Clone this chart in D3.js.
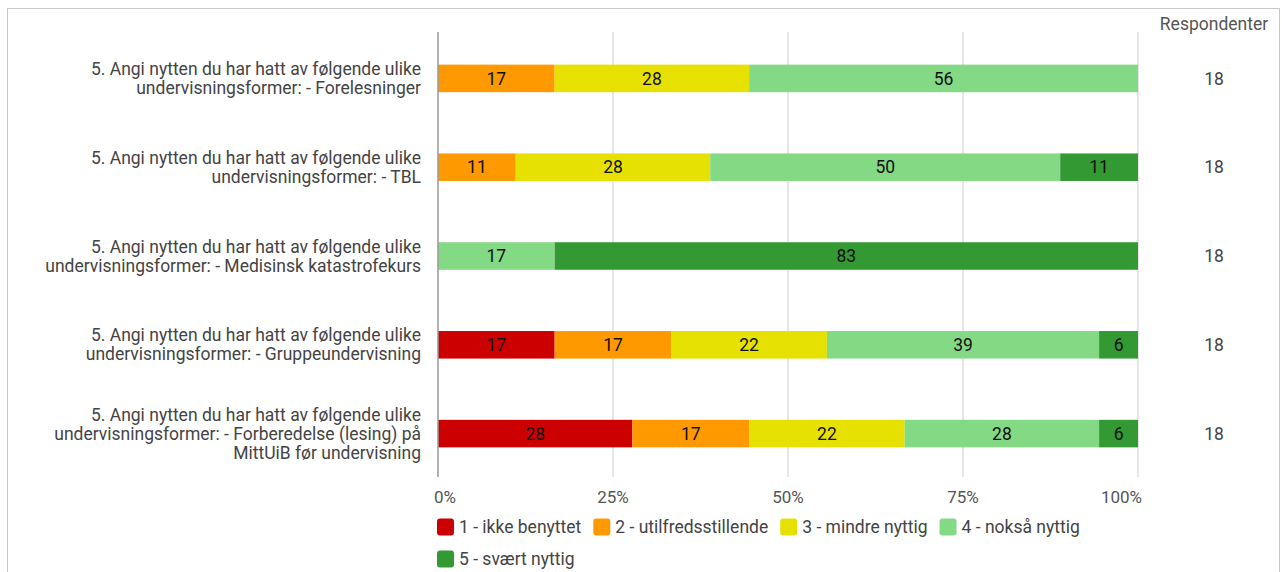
<!DOCTYPE html>
<html>
<head>
<meta charset="utf-8">
<script src="https://cdn.jsdelivr.net/npm/d3@7"></script>
<style>
  body { margin: 0; background: #fff; font-family: Roboto, "Noto Sans", sans-serif; }
  #frame { position: absolute; left: 7px; top: 8px; width: 1271px; height: 600px; border: 1px solid #c8c8c8; border-bottom: none; }
</style>
</head>
<body>
<div id="frame"></div>
<div id="chart" style="position:absolute;left:0;top:0"></div>
<script>
// spørsmål (kategorier)
const questions = [
  ["5. Angi nytten du har hatt av følgende ulike", "undervisningsformer: - Forelesninger"],
  ["5. Angi nytten du har hatt av følgende ulike", "undervisningsformer: - TBL"],
  ["5. Angi nytten du har hatt av følgende ulike", "undervisningsformer: - Medisinsk katastrofekurs"],
  ["5. Angi nytten du har hatt av følgende ulike", "undervisningsformer: - Gruppeundervisning"],
  ["5. Angi nytten du har hatt av følgende ulike", "undervisningsformer: - Forberedelse (lesing) på", "MittUiB før undervisning"]
];
const seriesNames = ["1 - ikke benyttet", "2 - utilfredsstillende", "3 - mindre nyttig", "4 - nokså nyttig", "5 - svært nyttig"];
const seriesColors = ["#cc0000", "#ff9900", "#e6e100", "#84d984", "#339933"];
// antall svar per alternativ (av 18)
const ikkeBenyttet     = [0, 0, 0, 3, 5];
const utilfredsstillende = [3, 2, 0, 3, 3];
const mindreNyttig     = [5, 5, 0, 4, 4];
const noksaNyttig      = [10, 9, 3, 7, 5];
const svaertNyttig     = [0, 2, 15, 1, 1];
const respondenter     = [18, 18, 18, 18, 18];
const tickValues = [0, 25, 50, 75, 100];

const W = 1282, H = 572;
const FS = 17.5;
const svg = d3.select("#chart").append("svg").attr("width", W).attr("height", H);

const x = d3.scaleLinear().domain([0, 100]).range([438, 1138]);
const y = d3.scaleBand().domain(d3.range(questions.length)).range([34, 478]).paddingInner(0.69).paddingOuter(0.345);

const rows = questions.map((q, i) => {
  const counts = [ikkeBenyttet[i], utilfredsstillende[i], mindreNyttig[i], noksaNyttig[i], svaertNyttig[i]];
  const obj = { i };
  counts.forEach((c, k) => obj[k] = c / respondenter[i] * 100);
  return obj;
});
const stack = d3.stack().keys(d3.range(seriesNames.length));
const stacked = stack(rows);

// rutenett
svg.append("g").selectAll("line").data(tickValues.slice(1)).enter().append("line")
  .attr("x1", d => x(d)).attr("x2", d => x(d))
  .attr("y1", 32).attr("y2", 477)
  .attr("stroke", "#cccccc").attr("stroke-width", 1);

// søyler
const layer = svg.append("g").selectAll("g").data(stacked).enter().append("g")
  .attr("fill", (d, k) => seriesColors[k]);
layer.selectAll("rect").data(d => d.filter(s => s[1] - s[0] > 0)).enter().append("rect")
  .attr("x", d => x(d[0])).attr("width", d => x(d[1]) - x(d[0]))
  .attr("y", d => y(d.data.i)).attr("height", y.bandwidth());
layer.selectAll("text").data(d => d.filter(s => s[1] - s[0] > 0)).enter().append("text")
  .attr("x", d => (x(d[0]) + x(d[1])) / 2)
  .attr("y", d => y(d.data.i) + y.bandwidth() / 2)
  .attr("dy", "0.35em").attr("text-anchor", "middle")
  .attr("fill", "#111").attr("font-size", FS)
  .text(d => Math.round(d[1] - d[0]));

// akse
svg.append("line").attr("x1", 438).attr("x2", 438).attr("y1", 32).attr("y2", 477)
  .attr("stroke", "#999").attr("stroke-width", 1.5);

// kategoritekster
const lab = svg.append("g").selectAll("text").data(questions).enter().append("text")
  .attr("text-anchor", "end").attr("fill", "#444").attr("font-size", FS)
  .attr("transform", (d, i) => `translate(421,${y(i) + y.bandwidth() / 2})`);
lab.selectAll("tspan").data(d => d.map((t, j) => ({ t, j, n: d.length }))).enter().append("tspan")
  .attr("x", 0).attr("y", d => (d.j - (d.n - 1) / 2) * 19).attr("dy", "0.35em")
  .text(d => d.t);

// x-akse etiketter
svg.append("g").selectAll("text").data(tickValues).enter().append("text")
  .attr("x", (d, i) => i === 0 ? x(d) - 4 : i === tickValues.length - 1 ? x(d) + 4 : x(d))
  .attr("y", 497).attr("dy", "0.35em")
  .attr("text-anchor", (d, i) => i === 0 ? "start" : i === tickValues.length - 1 ? "end" : "middle")
  .attr("fill", "#555").attr("font-size", FS - 0.5)
  .text(d => d + "%");

// respondenter
svg.append("text").attr("x", 1214).attr("y", 24).attr("dy", "0.35em").attr("text-anchor", "middle")
  .attr("fill", "#555").attr("font-size", FS).text("Respondenter");
svg.append("g").selectAll("text").data(respondenter).enter().append("text")
  .attr("x", 1214).attr("y", (d, i) => y(i) + y.bandwidth() / 2).attr("dy", "0.35em")
  .attr("text-anchor", "middle").attr("fill", "#444").attr("font-size", FS)
  .text(d => d);

// tegnforklaring
const leg = svg.append("g");
let lx = 437, ly = 527;
seriesNames.forEach((name, k) => {
  const g = leg.append("g");
  g.append("rect").attr("width", 17).attr("height", 17).attr("rx", 3)
    .attr("y", -8.5).attr("fill", seriesColors[k]);
  const t = g.append("text").attr("x", 22).attr("dy", "0.35em")
    .attr("fill", "#444").attr("font-size", FS).text(name);
  const w = 22 + t.node().getComputedTextLength();
  if (lx + w > 1140) { lx = 437; ly += 32; }
  g.attr("transform", `translate(${lx},${ly})`);
  lx += w + 12;
});
</script>
</body>
</html>
